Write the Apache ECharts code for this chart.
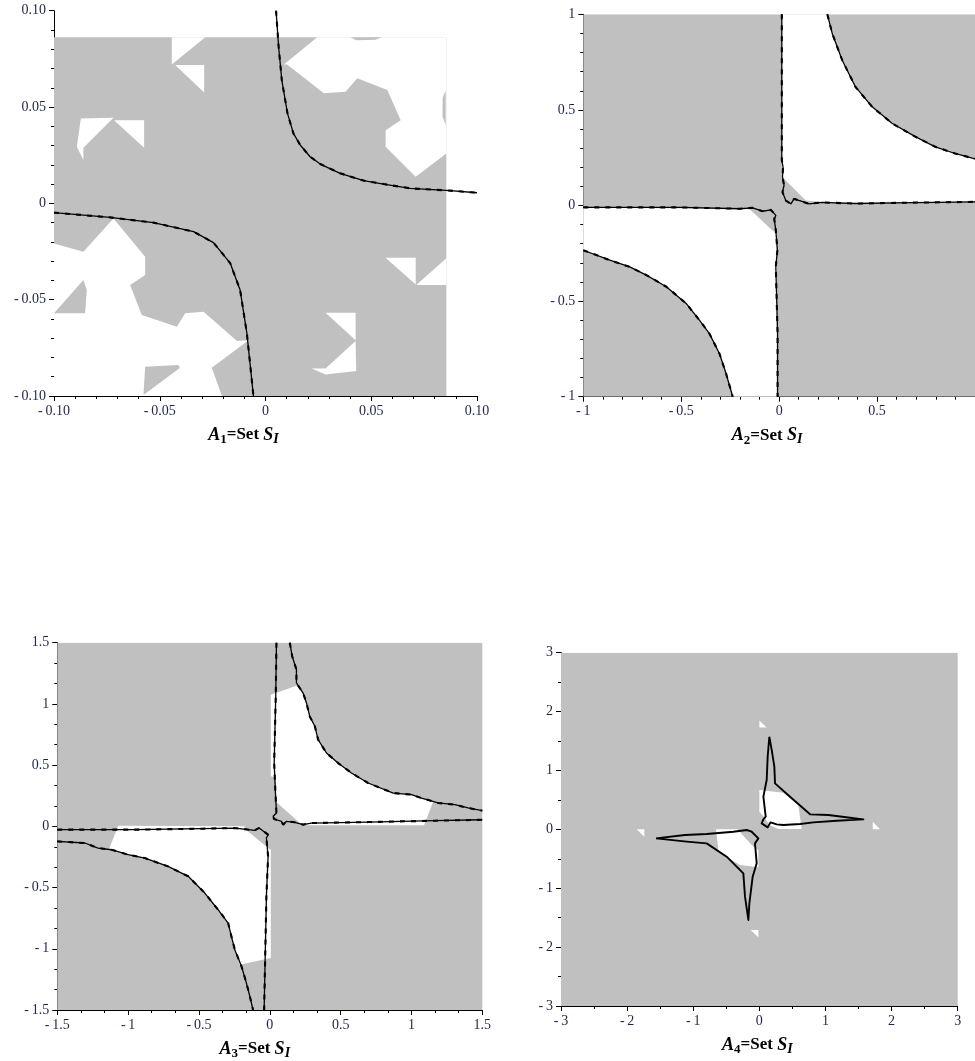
<!DOCTYPE html>
<html>
<head>
<meta charset="utf-8">
<script src="https://cdn.jsdelivr.net/npm/echarts@6/dist/echarts.min.js"></script>
<style>html,body{margin:0;padding:0;background:#fff}#c{width:975px;height:1061px}</style>
</head>
<body>
<div id="c"></div>
<script>
// ---------------- DATA ----------------
// Panel 1 (A1)
const p1Ticks = ['-\u20090.10', '-\u20090.05', '0', '0.05', '0.10'];
const p1Grey = [[-0.1,-0.1],[0.0855,-0.1],[0.0855,0.0862],[-0.1,0.0862]];
const p1White = [
  [[-0.0443,0.0862],[-0.0443,0.0721],[-0.0285,0.0862]],
  [[-0.0427,0.0718],[-0.029,0.0718],[-0.029,0.0576]],
  [[-0.0873,0.0441],[-0.0719,0.0444],[-0.0861,0.0289],[-0.0861,0.0225],[-0.0892,0.0294]],
  [[-0.0716,0.0432],[-0.0574,0.0432],[-0.0574,0.0289]],
  [[0.0245,0.0862],[0.0087,0.0721],[0.0102,0.0721],[0.0276,0.0571],[0.0379,0.0579],[0.0434,0.0649],[0.0576,0.0588],[0.0639,0.0432],[0.0568,0.038],[0.0568,0.0294],[0.071,0.0138],[0.0855,0.0259],[0.0855,0.0862]],
  [[0.0855,-0.0285],[0.0713,-0.0424],[0.0855,-0.0424]],
  [[0.0568,-0.0282],[0.071,-0.0282],[0.071,-0.0421]],
  [[0.0284,-0.0568],[0.0426,-0.0568],[0.0426,-0.071]],
  [[0.0426,-0.0715],[0.0284,-0.0857],[0.0218,-0.0857],[0.0284,-0.0888],[0.0429,-0.087]],
  [[-0.1,-0.0208],[-0.0861,-0.0251],[-0.0719,-0.0078],[-0.0569,-0.0277],[-0.0569,-0.0372],[-0.064,-0.0424],[-0.0585,-0.058],[-0.0419,-0.064],[-0.038,-0.0571],[-0.0293,-0.0563],[-0.0135,-0.0715],[-0.008,-0.071],[-0.0254,-0.0853],[-0.0206,-0.1],[-0.1,-0.1]]
];
const p1GreyIslands = [
  [[0.0402,0.0862],[0.0552,0.0862],[0.052,0.0849],[0.043,0.0847]],
  [[0.0852,0.0585],[0.0852,0.0406],[0.0837,0.045],[0.0838,0.055]],
  [[-0.1,-0.0571],[-0.0861,-0.0398],[-0.0845,-0.045],[-0.0853,-0.0571]],
  [[-0.0569,-0.0848],[-0.0412,-0.0839],[-0.0405,-0.0855],[-0.0577,-0.0995]]
];
const p1CurveA = [[0.005,0.1],[0.0062,0.0813],[0.0077,0.064],[0.0104,0.0467],[0.0132,0.0363],[0.0164,0.0303],[0.0211,0.0242],[0.0259,0.0204],[0.0353,0.0156],[0.0464,0.0118],[0.0558,0.01],[0.0685,0.0078],[0.0874,0.0066],[0.1,0.0055]];
const p1CurveB = [[-0.1,-0.0048],[-0.0735,-0.0073],[-0.053,-0.01],[-0.034,-0.0147],[-0.0246,-0.0204],[-0.0167,-0.031],[-0.012,-0.045],[-0.0088,-0.0675],[-0.0057,-0.1]];

// Panel 2 (A2)
const p2Ticks = ['-\u20091', '-\u20090.5', '0', '0.5', '1'];
const p2Grey = [[-1,-1],[1,-1],[1,1],[-1,1]];
const p2HypA = [[0.246,1],[0.271,0.9],[0.322,0.76],[0.39,0.62],[0.475,0.516],[0.576,0.43],[0.695,0.36],[0.797,0.307],[0.898,0.272],[1,0.244]];
const p2HypB = [[-1,-0.234],[-0.864,-0.286],[-0.763,-0.321],[-0.678,-0.364],[-0.576,-0.425],[-0.475,-0.512],[-0.407,-0.6],[-0.356,-0.67],[-0.305,-0.774],[-0.271,-0.879],[-0.237,-1]];
const p2WhiteAEdge = [[0.0136,1],[0.0136,0.16],[0.025,0.14],[0.136,0.026],[0.22,0.018],[1,0.02]];
const p2WhiteBEdge = [[-1,-0.012],[-0.153,-0.017],[-0.034,-0.131],[-0.012,-0.14],[-0.012,-1]];
const p2LineA = [[0.0136,1],[0.0136,0.237],[0.02,0.2],[0.017,0.15],[0.025,0.106],[0.017,0.07],[0.034,0.026],[0.06,0.009],[0.076,0.035],[0.12,0.02],[0.153,0.009],[0.22,0.016],[0.39,0.01],[0.6,0.014],[1,0.019]];
const p2LineB = [[-1,-0.01],[-0.5,-0.01],[-0.2,-0.017],[-0.136,-0.012],[-0.085,-0.03],[-0.042,-0.023],[-0.017,-0.052],[-0.025,-0.07],[-0.017,-0.131],[-0.009,-0.235],[-0.017,-0.32],[-0.008,-0.67],[-0.008,-1]];

// Panel 3 (A3)
const p3Ticks = ['-\u20091.5', '-\u20091', '-\u20090.5', '0', '0.5', '1', '1.5'];
const p3Grey = [[-1.5,-1.5],[1.5,-1.5],[1.5,1.5],[-1.5,1.5]];
const p3HypA = [[0.141,1.5],[0.158,1.389],[0.188,1.28],[0.188,1.171],[0.235,1.089],[0.259,1.007],[0.282,0.898],[0.318,0.817],[0.341,0.708],[0.4,0.599],[0.482,0.517],[0.576,0.436],[0.694,0.354],[0.871,0.272],[1.0,0.259],[1.071,0.231],[1.188,0.191],[1.306,0.177],[1.4,0.15],[1.5,0.128]];
const p3HypB = [[-1.5,-0.123],[-1.306,-0.136],[-1.212,-0.177],[-1.118,-0.191],[-1.0,-0.231],[-0.882,-0.259],[-0.718,-0.327],[-0.576,-0.408],[-0.459,-0.545],[-0.365,-0.681],[-0.294,-0.79],[-0.271,-0.898],[-0.247,-1.007],[-0.2,-1.143],[-0.165,-1.28],[-0.141,-1.388],[-0.118,-1.5]];
const p3WhiteAStart = [[0.007,1.075],[0.188,1.149]];
const p3WhiteAEnd = [[1.153,0.2],[1.089,0.01],[0.25,0.01],[0.212,0.027],[0.04,0.204],[0.04,0.4],[0.007,0.41]];
const p3WhiteBStart = [[-1.07,0.005],[-0.18,0.0],[-0.176,-0.019],[0.0,-0.19],[0.007,-0.19],[0.007,-1.075],[-0.212,-1.13]];
const p3WhiteBEnd = [[-1.136,-0.19]];
const p3LineA = [[0.047,1.5],[0.042,1.062],[0.031,0.517],[0.04,0.272],[0.047,0.109],[0.024,0.082],[0.03,0.06],[0.082,0.041],[0.094,0.014],[0.118,0.041],[0.176,0.033],[0.235,0.014],[0.294,0.027],[0.694,0.035],[1.165,0.046],[1.5,0.054]];
const p3LineB = [[-1.5,-0.027],[-0.953,-0.027],[-0.482,-0.019],[-0.247,-0.014],[-0.106,-0.033],[-0.078,-0.014],[-0.059,-0.027],[-0.012,-0.068],[-0.024,-0.095],[-0.012,-0.245],[-0.024,-0.572],[-0.031,-0.98],[-0.04,-1.5]];

// Panel 4 (A4)
const p4Ticks = ['-\u20093', '-\u20092', '-\u20091', '0', '1', '2', '3'];
const p4Grey = [[-3,-3],[3,-3],[3,3],[-3,3]];
const p4White = [
  [[0,1.85],[0.11,1.73],[0,1.73]],
  [[1.715,0.13],[1.715,0.0],[1.826,0.0]],
  [[-1.856,0],[-1.74,0],[-1.74,-0.125]],
  [[-0.131,-1.709],[-0.015,-1.709],[-0.015,-1.834]],
  [[0,0.668],[0.363,0.622],[0.59,0.413],[0.64,0.006],[0.287,0.006],[0.151,0.074],[0.086,0.187],[0,0.3]],
  [[-0.656,0],[-0.333,0],[-0.091,-0.294],[-0.015,-0.351],[-0.015,-0.645],[-0.293,-0.606],[-0.494,-0.464],[-0.62,-0.351]]
];
const p4LoopA = [[0.151,1.573],[0.187,1.347],[0.227,1.064],[0.237,0.781],[0.464,0.555],[0.767,0.255],[1.044,0.243],[1.372,0.198],[1.573,0.17],[1.17,0.147],[0.817,0.119],[0.615,0.091],[0.363,0.074],[0.262,0.085],[0.171,0.119],[0.126,0.034],[0.035,0.102],[0.061,0.17],[0.096,0.215],[0.061,0.555],[0.111,0.838],[0.126,1.234],[0.151,1.573]];
const p4LoopB = [[-1.563,-0.153],[-1.125,-0.096],[-0.797,-0.079],[-0.393,-0.04],[-0.192,-0.011],[-0.116,-0.04],[-0.015,-0.153],[-0.066,-0.238],[-0.04,-0.577],[-0.101,-0.804],[-0.151,-1.256],[-0.166,-1.539],[-0.217,-1.143],[-0.242,-0.747],[-0.494,-0.464],[-0.797,-0.238],[-1.099,-0.209],[-1.563,-0.153]];

// ---------------- BUILD ----------------
const GREY = '#c0c0c0', WHITE = '#ffffff';
const FONT = 'Liberation Serif';
const LABEL = '#1e2548';

const panels = [
  { grid:{left:54, top:10.7, width:423, height:385.3}, min:-0.1, max:0.1, interval:0.05, split:5, ticks:p1Ticks, sub:'1', shift:44,
    polys:[{fill:GREY,pts:p1Grey}].concat(p1White.map(p=>({fill:WHITE,pts:p})), p1GreyIslands.map(p=>({fill:GREY,pts:p}))),
    lines:[p1CurveA, p1CurveB], dashed:true, lw:1.3 },
  { grid:{left:583.3, top:14.3, width:393.4, height:382.4}, min:-1, max:1, interval:0.5, split:5, ticks:p2Ticks, sub:'2', shift:24, hideMaxX:true,
    polys:[{fill:GREY,pts:p2Grey},
           {fill:WHITE,pts:p2WhiteAEdge.concat(p2HypA.slice().reverse())},
           {fill:WHITE,pts:p2WhiteBEdge.concat(p2HypB.slice().reverse())}],
    lines:[p2LineA, p2LineB, p2HypA, p2HypB], dashed:true, lw:1.3 },
  { grid:{left:57.3, top:642.7, width:425, height:367.3}, min:-1.5, max:1.5, interval:0.5, split:3, ticks:p3Ticks, sub:'3', shift:30,
    polys:[{fill:GREY,pts:p3Grey},
           {fill:WHITE,pts:p3WhiteAStart.concat(p3HypA.slice(4,16), p3WhiteAEnd)},
           {fill:WHITE,pts:p3WhiteBStart.concat(p3HypB.slice(3,13).reverse(), p3WhiteBEnd)}],
    lines:[p3LineA, p3LineB, p3HypA, p3HypB], dashed:true, lw:1.3 },
  { grid:{left:561, top:652.7, width:396.7, height:353.3}, min:-3, max:3, interval:1, split:2, ticks:p4Ticks, sub:'4', shift:4,
    polys:[{fill:GREY,pts:p4Grey}].concat(p4White.map(p=>({fill:WHITE,pts:p}))),
    lines:[p4LoopA, p4LoopB], dashed:false, lw:1.9 }
];

function fmt(P) {
  return function (v) {
    const i = Math.round((v - P.min) / P.interval);
    return P.ticks[i] !== undefined ? P.ticks[i] : '';
  };
}

const grids = [], xAxes = [], yAxes = [], series = [];
panels.forEach((P, k) => {
  grids.push(Object.assign({containLabel:false}, P.grid));
  const common = {
    type:'value', gridIndex:k, min:P.min, max:P.max, interval:P.interval,
    axisLine:{show:true, onZero:false, lineStyle:{color:'#000', width:1}},
    axisTick:{show:true, length:5, lineStyle:{color:'#000', width:1}},
    minorTick:{show:true, splitNumber:P.split, length:3, lineStyle:{color:'#000', width:1}},
    splitLine:{show:false}, minorSplitLine:{show:false},
    axisLabel:{fontFamily:FONT, fontSize:14, color:LABEL, formatter:fmt(P), margin:8}
  };
  xAxes.push(Object.assign({}, common, {
    position:'bottom',
    axisLabel:Object.assign({}, common.axisLabel, {showMaxLabel:!P.hideMaxX, showMinLabel:true, margin:8}),
    name:'{i|A}{s|' + P.sub + '}{b|=Set }{i|S}{si|I}',
    nameLocation:'middle', nameGap:30,
    nameTextStyle:{
      padding:[0, P.shift, 0, 0],
      rich:{
        i:{fontFamily:FONT, fontStyle:'italic', fontWeight:'bold', fontSize:18, color:'#000', lineHeight:20, verticalAlign:'top'},
        b:{fontFamily:FONT, fontWeight:'bold', fontSize:17, color:'#000', lineHeight:20, verticalAlign:'top'},
        s:{fontFamily:FONT, fontWeight:'bold', fontSize:13, color:'#000', lineHeight:14, padding:[10,0,0,0], verticalAlign:'bottom'},
        si:{fontFamily:FONT, fontStyle:'italic', fontWeight:'bold', fontSize:14, color:'#000', lineHeight:14, padding:[10,0,0,0], verticalAlign:'bottom'}
      }
    }
  }));
  yAxes.push(Object.assign({}, common, {position:'left'}));

  const polys = P.polys;
  series.push({
    type:'custom', xAxisIndex:k, yAxisIndex:k, clip:true, silent:true, animation:false,
    data: polys.map(p => p.pts[0]),
    encode:{x:0, y:1},
    renderItem: function (params, api) {
      const poly = polys[params.dataIndex];
      return { type:'polygon', shape:{ points: poly.pts.map(pt => api.coord(pt)) }, style:{ fill: poly.fill } };
    }
  });
  P.lines.forEach(L => {
    series.push({
      type:'line', xAxisIndex:k, yAxisIndex:k, data:L, showSymbol:false, symbol:'none',
      clip:true, silent:true, animation:false,
      lineStyle:{color:'#000', width:P.lw, join:'round'}
    });
    if (P.dashed) {
      series.push({
        type:'line', xAxisIndex:k, yAxisIndex:k, data:L, showSymbol:false, symbol:'none',
        clip:true, silent:true, animation:false,
        lineStyle:{color:'#000', width:2.1, type:[5,6]}
      });
    }
  });
});

const chart = echarts.init(document.getElementById('c'), null, {renderer:'canvas'});
chart.setOption({
  animation:false,
  backgroundColor:'#ffffff',
  grid:grids, xAxis:xAxes, yAxis:yAxes, series:series
});
</script>
</body>
</html>
